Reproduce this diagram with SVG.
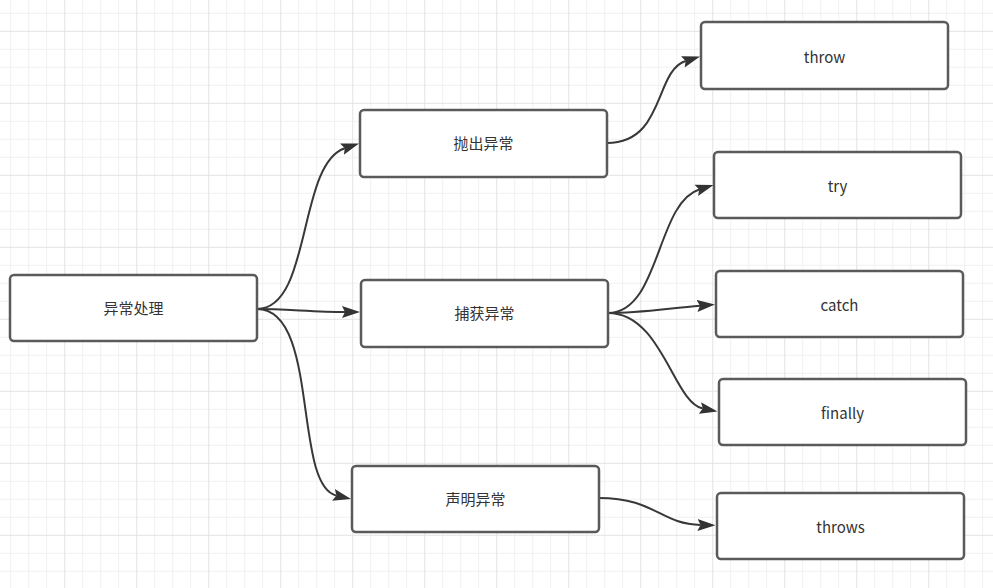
<svg xmlns="http://www.w3.org/2000/svg" width="993" height="588" viewBox="0 0 993 588">
  <defs>
    <pattern id="grid" patternUnits="userSpaceOnUse" x="-7.8" y="-41.2" width="72" height="72">
      <path d="M18.5,0V72M36.5,0V72M54.5,0V72M0,18.5H72M0,36.5H72M0,54.5H72" stroke="#f1f1f1" stroke-width="1" fill="none"/>
      <path d="M0.5,0V72M0,0.5H72" stroke="#e3e3e3" stroke-width="1" fill="none"/>
    </pattern>
    <marker id="arrow" markerUnits="userSpaceOnUse" viewBox="0 -7 18 14" markerWidth="18" markerHeight="14" refX="3" refY="0" orient="auto">
      <path d="M18,0 L0,-6 L3,0 L0,6 Z" fill="#333333"/>
    </marker>
  </defs>
  <style>
    .node rect { fill: #ffffff; stroke: #5a5a5a; stroke-width: 2.5; }
    .node text { font-family: "Noto Sans CJK SC", "Noto Sans", sans-serif; font-size: 15px; fill: #333333; text-anchor: middle; }
    .edge { fill: none; stroke: #383838; stroke-width: 2; marker-end: url(#arrow); }
  </style>
  <rect x="0" y="0" width="993" height="588" fill="#ffffff"/>
  <rect x="0" y="0" width="993" height="588" fill="url(#grid)"/>

  <g id="connectors">
    <path class="edge" d="M257,309 C312,309 297.3,164 344.8,148.2"/>
    <path class="edge" d="M257,309 C285,309 315,312 345,312"/>
    <path class="edge" d="M257,309 C320,309 292.6,485.3 336.4,495.6"/>
    <path class="edge" d="M607,143 C665,143 654.2,70.8 685.7,61"/>
    <path class="edge" d="M608,313 C660,313 656.3,202.9 699.2,189.5"/>
    <path class="edge" d="M608,313 C640,313 670,308 700,305.7"/>
    <path class="edge" d="M608,313 C662,313 673.4,402.7 702.8,408.6"/>
    <path class="edge" d="M599,498 C655,498 660,524 700.5,525"/>
  </g>

  <g id="node-root" class="node">
    <rect x="10" y="275" width="247" height="66" rx="4"/>
    <text x="133.5" y="313.5">异常处理</text>
  </g>
  <g id="node-throw-ex" class="node">
    <rect x="360" y="110" width="247" height="67" rx="4"/>
    <text x="483.5" y="149">抛出异常</text>
  </g>
  <g id="node-catch-ex" class="node">
    <rect x="361" y="280" width="247" height="67" rx="4"/>
    <text x="484.5" y="319">捕获异常</text>
  </g>
  <g id="node-declare-ex" class="node">
    <rect x="352" y="466" width="247" height="66" rx="4"/>
    <text x="475.5" y="504.5">声明异常</text>
  </g>
  <g id="node-throw" class="node">
    <rect x="701" y="22" width="247" height="67" rx="4"/>
    <text x="824.5" y="62.5">throw</text>
  </g>
  <g id="node-try" class="node">
    <rect x="714" y="152" width="247" height="66" rx="4"/>
    <text x="837.5" y="191.5">try</text>
  </g>
  <g id="node-catch" class="node">
    <rect x="716" y="271" width="247" height="66" rx="4"/>
    <text x="839.5" y="310.5">catch</text>
  </g>
  <g id="node-finally" class="node">
    <rect x="719" y="379" width="247" height="66" rx="4"/>
    <text x="842.5" y="418.5">finally</text>
  </g>
  <g id="node-throws" class="node">
    <rect x="717" y="493" width="247" height="66" rx="4"/>
    <text x="840.5" y="532.5">throws</text>
  </g>
</svg>
